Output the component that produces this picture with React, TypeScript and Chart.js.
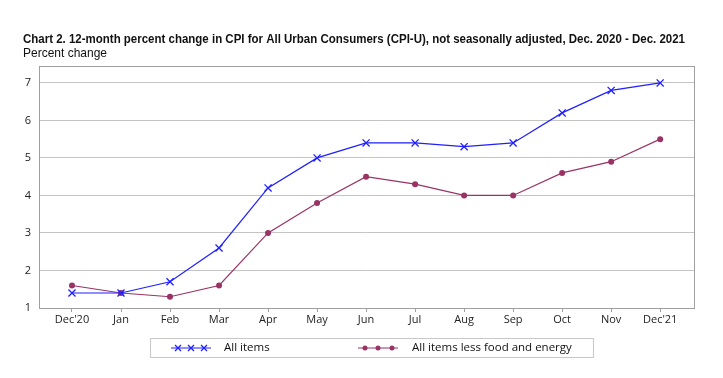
import React, { useEffect, useRef } from "react";
import { Chart, registerables } from "chart.js";

Chart.register(...registerables);

const categories = ["Dec'20", "Jan", "Feb", "Mar", "Apr", "May", "Jun", "Jul", "Aug", "Sep", "Oct", "Nov", "Dec'21"];
const allItems = [1.4, 1.4, 1.7, 2.6, 4.2, 5.0, 5.4, 5.4, 5.3, 5.4, 6.2, 6.8, 7.0];
const coreItems = [1.6, 1.4, 1.3, 1.6, 3.0, 3.8, 4.5, 4.3, 4.0, 4.0, 4.6, 4.9, 5.5];
const yTicks = [1, 2, 3, 4, 5, 6, 7];
const seriesNames = ["All items", "All items less food and energy"];
const titleText = "Chart 2. 12-month percent change in CPI for All Urban Consumers (CPI-U), not seasonally adjusted, Dec. 2020 - Dec. 2021";
const subtitleText = "Percent change";

const BLUE = "#1f1fff";
const MAROON = "#993366";
const FONT = "'Open Sans', sans-serif";

function drawX(ctx: CanvasRenderingContext2D, x: number, y: number, r: number, color: string) {
  ctx.save();
  ctx.strokeStyle = color;
  ctx.lineWidth = 1.3;
  ctx.beginPath();
  ctx.moveTo(x - r, y - r);
  ctx.lineTo(x + r, y + r);
  ctx.moveTo(x + r, y - r);
  ctx.lineTo(x - r, y + r);
  ctx.stroke();
  ctx.restore();
}

const decorPlugin = {
  id: "decor",
  afterDraw(chart: any) {
    const ctx: CanvasRenderingContext2D = chart.ctx;
    const { left, right, top, bottom } = chart.chartArea;
    ctx.save();
    // plot border
    ctx.strokeStyle = "#a0a0a0";
    ctx.lineWidth = 1;
    ctx.strokeRect(Math.round(left) + 0.5, Math.round(top) + 0.5, Math.round(right - left), Math.round(bottom - top));

    // title
    ctx.fillStyle = "#111";
    ctx.textBaseline = "alphabetic";
    ctx.textAlign = "left";
    ctx.font = "bold 13px 'Liberation Sans', sans-serif";
    const tw = ctx.measureText(titleText).width;
    ctx.save();
    ctx.translate(23, 43);
    ctx.scale(662 / tw, 1);
    ctx.fillText(titleText, 0, 0);
    ctx.restore();
    ctx.font = "13px 'Liberation Sans', sans-serif";
    const sw = ctx.measureText(subtitleText).width;
    ctx.save();
    ctx.translate(23, 57);
    ctx.scale(84 / sw, 1);
    ctx.fillText(subtitleText, 0, 0);
    ctx.restore();

    // legend
    ctx.strokeStyle = "#c8c8c8";
    ctx.lineWidth = 1;
    ctx.strokeRect(150.5, 338.5, 443, 19);
    const ly = 348;
    ctx.strokeStyle = BLUE;
    ctx.lineWidth = 1;
    ctx.beginPath();
    ctx.moveTo(171, ly);
    ctx.lineTo(211, ly);
    ctx.stroke();
    [178, 191, 204].forEach((x) => drawX(ctx, x, ly, 3, BLUE));
    ctx.strokeStyle = MAROON;
    ctx.beginPath();
    ctx.moveTo(358, ly);
    ctx.lineTo(398, ly);
    ctx.stroke();
    ctx.fillStyle = MAROON;
    [365, 378, 392].forEach((x) => {
      ctx.beginPath();
      ctx.arc(x, ly, 2.5, 0, Math.PI * 2);
      ctx.fill();
    });
    ctx.fillStyle = "#111";
    ctx.font = "11.5px " + FONT;
    ctx.textBaseline = "middle";
    ctx.fillText(seriesNames[0], 224, ly);
    ctx.fillText(seriesNames[1], 412, ly);
    ctx.restore();
  },
};

export default function App() {
  const ref = useRef<HTMLCanvasElement | null>(null);
  useEffect(() => {
    if (!ref.current) return;
    const chart = new Chart(ref.current, {
      type: "line",
      data: {
        datasets: [
          {
            label: seriesNames[0],
            data: allItems.map((v, i) => ({ x: i, y: v })),
            borderColor: BLUE,
            backgroundColor: BLUE,
            borderWidth: 1.2,
            pointStyle: "cross",
            rotation: 45,
            pointRadius: 5,
            pointBorderWidth: 1.3,
            pointBorderColor: BLUE,
          },
          {
            label: seriesNames[1],
            data: coreItems.map((v, i) => ({ x: i, y: v })),
            borderColor: MAROON,
            backgroundColor: MAROON,
            borderWidth: 1.2,
            pointStyle: "circle",
            pointRadius: 3,
            pointBorderWidth: 0,
          },
        ],
      },
      options: {
        animation: false,
        responsive: false,
        layout: { padding: { top: 66, left: 0, right: 29, bottom: 48 } },
        plugins: { legend: { display: false }, tooltip: { enabled: false }, title: { display: false } },
        scales: {
          x: {
            type: "linear",
            min: -0.673,
            max: 12.69,
            afterFit: (s: any) => { s.height = 22; },
            afterBuildTicks: (s: any) => { s.ticks = categories.map((_, i) => ({ value: i })); },
            ticks: {
              autoSkip: false,
              maxRotation: 0,
              padding: 1,
              color: "#222",
              font: { family: FONT, size: 11 },
              callback: (v: any) => categories[v] ?? "",
            },
            grid: { display: true, drawOnChartArea: false, drawTicks: true, tickLength: 4, color: "#a0a0a0" },
            border: { display: false },
          },
          y: {
            type: "linear",
            min: 1,
            max: 7.45,
            afterFit: (s: any) => { s.width = 39; },
            afterBuildTicks: (s: any) => { s.ticks = yTicks.map((v) => ({ value: v })); },
            ticks: {
              color: "#222",
              padding: 8,
              font: { family: FONT, size: 11 },
              callback: (v: any) => String(v),
            },
            grid: { color: "#c4c4c4", drawTicks: false, lineWidth: 1 },
            border: { display: false },
          },
        },
      },
      plugins: [decorPlugin],
    } as any);
    return () => chart.destroy();
  }, []);
  return (
    <div style={{ position: "absolute", left: 0, top: 0, width: 723, height: 378, background: "#fff" }}>
      <canvas ref={ref} width={723} height={378} style={{ width: 723, height: 378, display: "block" }} />
    </div>
  );
}
